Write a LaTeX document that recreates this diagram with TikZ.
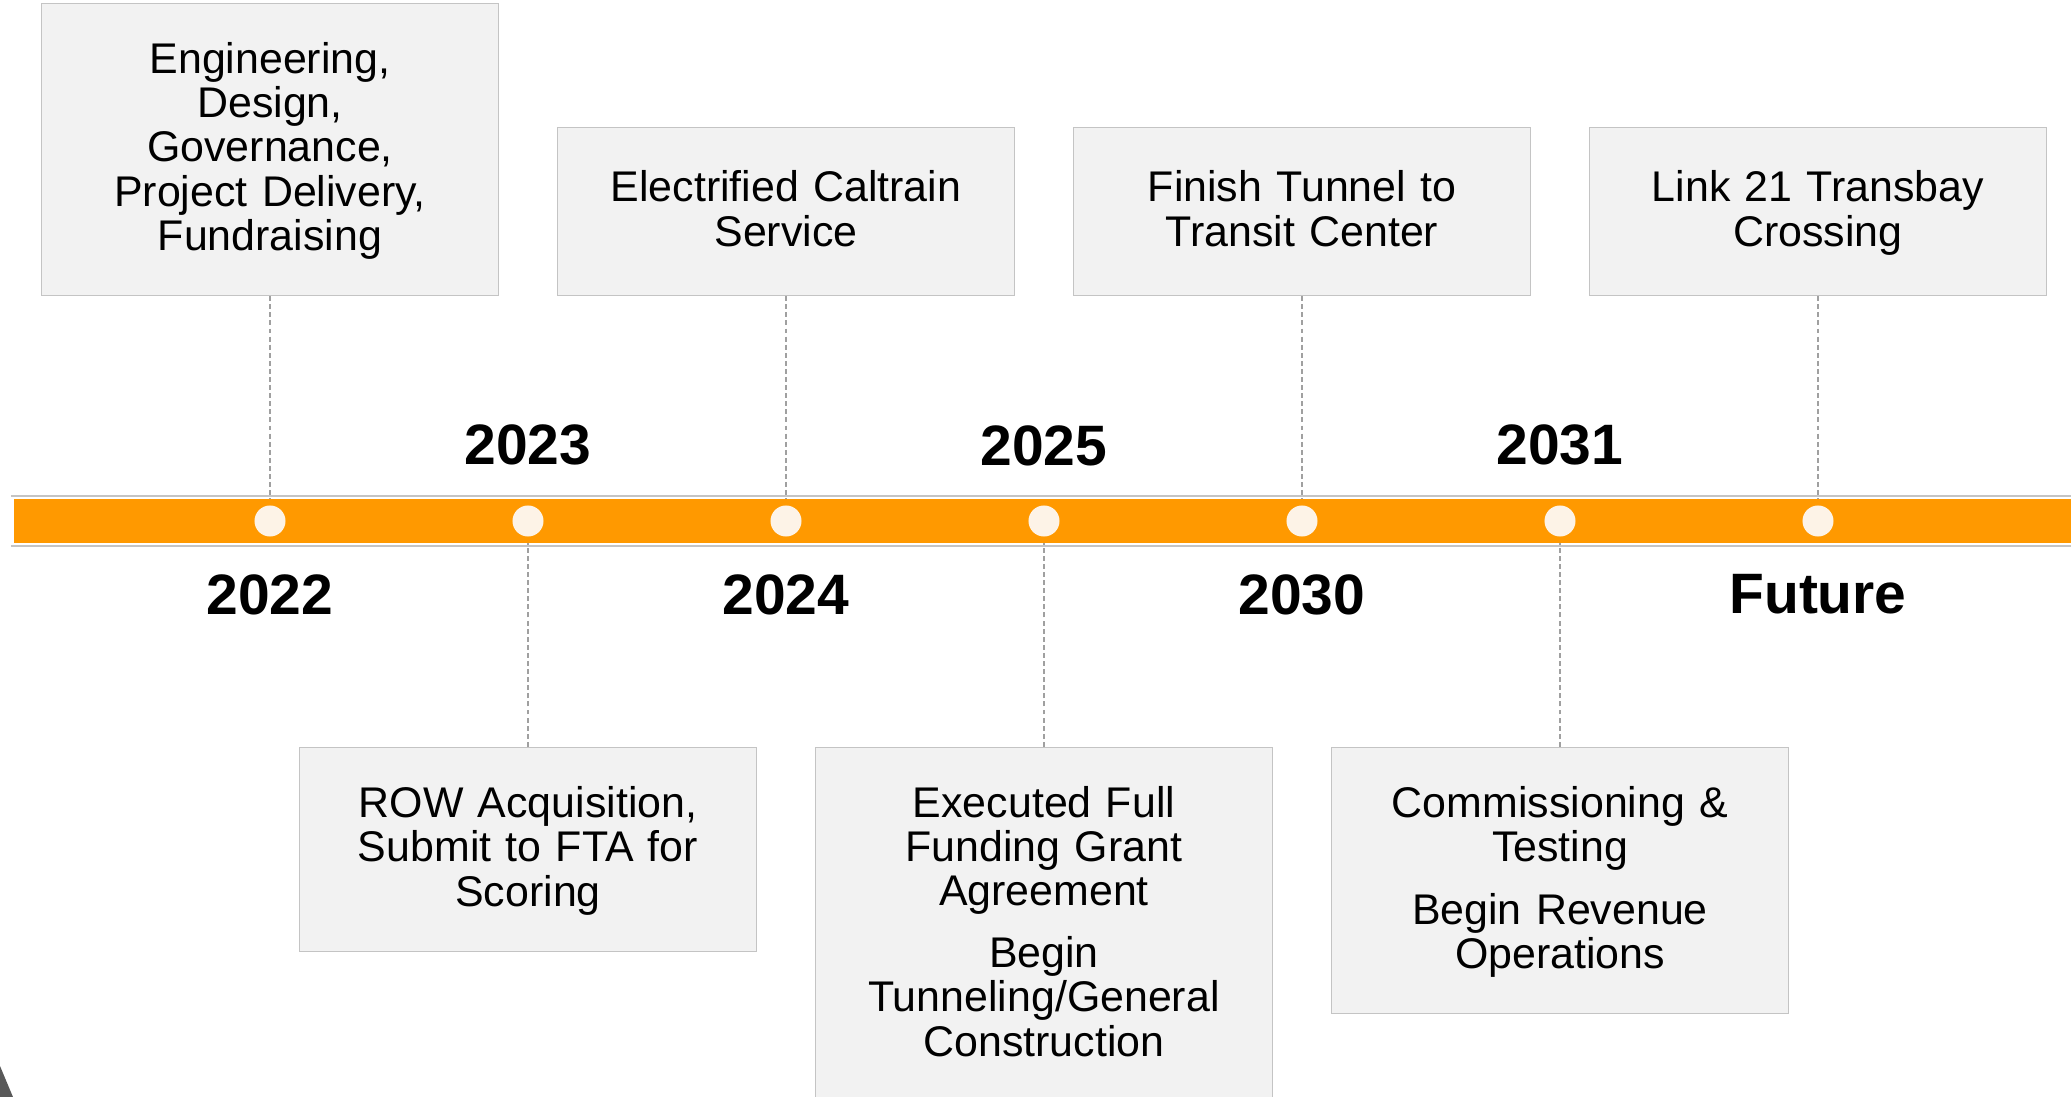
\documentclass[tikz,border=0pt]{standalone}
\usepackage{fontspec}
\setmainfont{Liberation Sans}
\usetikzlibrary{positioning,backgrounds}
\definecolor{barorange}{RGB}{255,153,0}
\definecolor{boxfill}{RGB}{242,242,242}
\definecolor{boxline}{RGB}{196,196,196}
\definecolor{dotfill}{RGB}{253,243,231}
\definecolor{guide}{RGB}{160,160,160}

\begin{document}
\begin{tikzpicture}[
    x=0.01cm, y=-0.01cm,
    event/.style={rectangle, draw=boxline, fill=boxfill, line width=0.35pt, minimum width=4.57cm, text width=4.4cm, align=center, inner sep=0pt,
        font=\fontsize{12.2}{12.55}\selectfont,
        execute at begin node={\rule{0pt}{10.1pt}}, execute at end node={\rule[-3pt]{0pt}{3pt}}},
    year/.style={inner sep=0pt, font=\fontsize{16.2}{18}\selectfont\bfseries},
    milestone/.style={circle, fill=dotfill, minimum size=0.31cm, inner sep=0pt},
    guideline/.style={guide, line width=0.4pt, dash pattern=on 1.4pt off 0.9pt}
]
    \useasboundingbox (0,0) rectangle (2071,1097);

    % milestones on the bar
    \node[milestone] (d1) at (270,521) {};
    \node[milestone] (d2) at (528,521) {};
    \node[milestone] (d3) at (786,521) {};
    \node[milestone] (d4) at (1044,521) {};
    \node[milestone] (d5) at (1302,521) {};
    \node[milestone] (d6) at (1560,521) {};
    \node[milestone] (d7) at (1818,521) {};

    % years
    \node[year, below=0.365cm of d1] (y2022) {2022};
    \node[year, above=0.385cm of d2] (y2023) {2023};
    \node[year, below=0.365cm of d3] (y2024) {2024};
    \node[year, above=0.385cm of d4] (y2025) {2025};
    \node[year, below=0.365cm of d5] (y2030) {2030};
    \node[year, above=0.385cm of d6] (y2031) {2031};
    \node[year, below=0.365cm of d7] (future) {Future};

    % events above
    \node[event, minimum height=2.92cm, above=2.085cm of d1] (eng) {Engineering,\\ Design,\\ Governance,\\ Project Delivery,\\ Fundraising};
    \node[event, minimum height=1.68cm, above=2.085cm of d3] (caltrain) {Electrified Caltrain\\ Service};
    \node[event, minimum height=1.68cm, above=2.085cm of d5] (tunnel) {Finish Tunnel to\\ Transit Center};
    \node[event, minimum height=1.68cm, above=2.085cm of d7] (link) {Link 21 Transbay\\ Crossing};

    % events below
    \node[event, minimum height=2.04cm, below=2.095cm of d2] (row) {ROW Acquisition,\\ Submit to FTA for\\ Scoring};
    \node[event, minimum height=3.53cm, below=2.095cm of d4] (ffga) {Executed Full\\ Funding Grant\\ Agreement\\[5.2pt] Begin\\ Tunneling/General\\ Construction};
    \node[event, minimum height=2.66cm, below=2.095cm of d6] (testing) {Commissioning \&\\ Testing\\[5.2pt] Begin Revenue\\ Operations};

    \begin{scope}[on background layer]
        \draw[guideline] (eng) -- (d1);
        \draw[guideline] (caltrain) -- (d3);
        \draw[guideline] (tunnel) -- (d5);
        \draw[guideline] (link) -- (d7);
        \draw[guideline] (row) -- (d2);
        \draw[guideline] (ffga) -- (d4);
        \draw[guideline] (testing) -- (d6);
        % the bar
        \fill[barorange] (14,499) rectangle (2071,543);
        \draw[boxline, line width=0.35pt] (11,496) -- (2071,496);
        \draw[boxline, line width=0.35pt] (11,546) -- (2071,546);
    \end{scope}

    \fill[black!65] (0,1066) -- (13,1097) -- (0,1097) -- cycle;
\end{tikzpicture}
\end{document}
